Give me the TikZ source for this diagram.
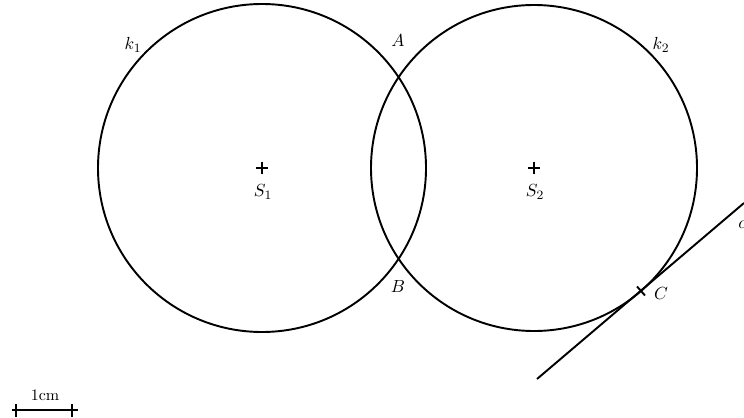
\documentclass[tikz,border=0pt]{standalone}
\usetikzlibrary{calc}
\begin{document}
\begin{tikzpicture}[x=0.625pt,y=-0.625pt,
  curve/.style={line width=1.2pt},
  lbl/.style={inner sep=0pt,font=\fontsize{11}{13}\selectfont},
  crossmark/.style={line width=1.3pt}]
\useasboundingbox (0,0) rectangle (744,417);
% centers
\coordinate (S1) at (262,168);
\coordinate (S2) at (534,168);
% circles
\draw[curve] (S1) circle[radius=164*0.625pt];
\draw[curve] (S2) circle[radius=163*0.625pt];
% center crosses
\draw[crossmark] ($(S1)+(-6,0)$) -- ($(S1)+(6,0)$) ($(S1)+(0,-6)$) -- ($(S1)+(0,6)$);
\draw[crossmark] ($(S2)+(-6,0)$) -- ($(S2)+(6,0)$) ($(S2)+(0,-6)$) -- ($(S2)+(0,6)$);
\node[lbl] (s1l) at (263,192) {$S_1$};
\node[lbl] (s2l) at (535,192) {$S_2$};
\node[lbl] (k1l) at (133,45) {$k_1$};
\node[lbl] (k2l) at (661,45) {$k_2$};
\node[lbl] (Al) at (398,41) {$A$};
\node[lbl] (Bl) at (398,287) {$B$};
% tangent
\coordinate (C) at (641,291);
\coordinate (t1) at (537,379);
\coordinate (t2) at (744,203);
\draw[curve] (t1) -- (t2);
\draw[line width=1.2pt] ($(C)+(-4,-4.5)$) -- ($(C)+(4,4.5)$);
\node[lbl] (Cl) at (661,294) {$C$};
\node[lbl,anchor=west] (cl) at (738,225) {$c$};
% scale bar
\coordinate (b1) at (12,410);
\coordinate (b2) at (78,410);
\draw[line width=1.2pt] (b1) -- (b2);
\draw[line width=1.2pt] (16,404) -- (16,417) (72,404) -- (72,417);
\node[lbl,font=\normalsize] (cm) at (45,395) {1cm};
\end{tikzpicture}
\end{document}
